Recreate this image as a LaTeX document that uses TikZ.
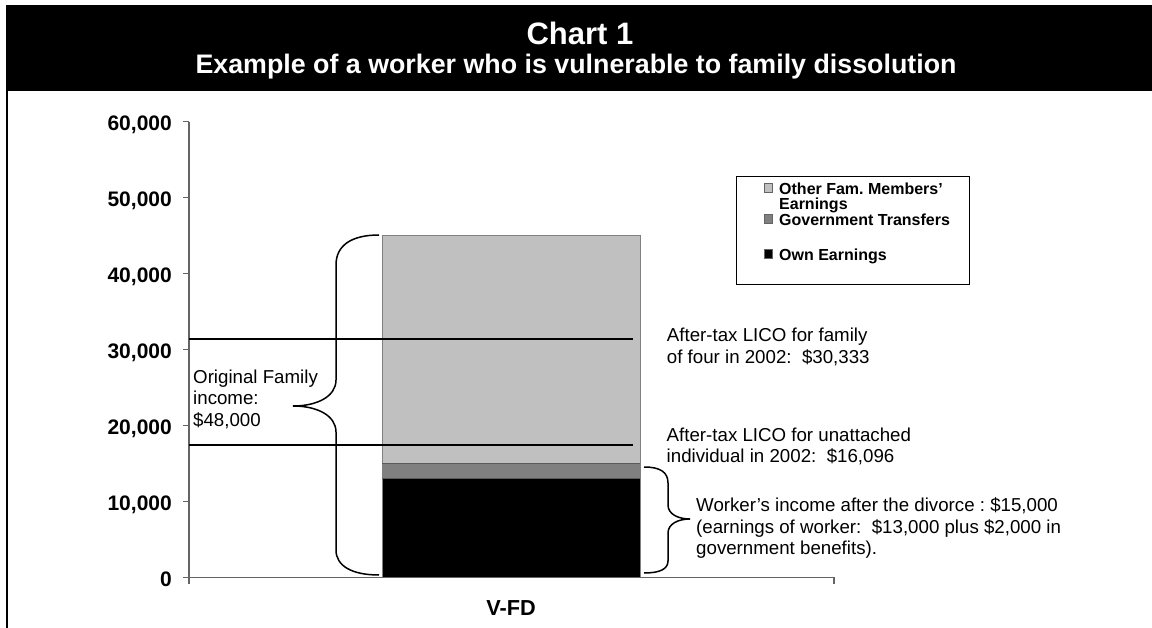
\documentclass[tikz,border=0pt]{standalone}
\usepackage{fontspec}
\setmainfont{Liberation Sans}
\frenchspacing
\definecolor{lightbar}{RGB}{192,192,192}
\definecolor{midbar}{RGB}{128,128,128}
\definecolor{axisgray}{RGB}{100,100,100}
\tikzset{
  ylab/.style={anchor=base east, inner sep=0pt, font=\bfseries\fontsize{21}{24}\selectfont},
  note/.style={anchor=base west, inner sep=0pt, font=\fontsize{18.7}{21.5}\selectfont},
  legtext/.style={anchor=base west, inner sep=0pt, font=\bfseries\fontsize{16}{16}\selectfont},
  legsq/.style={draw=axisgray, line width=0.8pt, minimum size=8.5pt, inner sep=0pt},
  brace/.style={draw=black, line width=1.5pt},
  axisline/.style={draw=axisgray, line width=1.2pt},
  lico/.style={draw=black, line width=1.3pt},
}
\begin{document}
\begin{tikzpicture}[x=1pt,y=-1pt]
\useasboundingbox (0,0) rectangle (1152,628);
% title bar and frame
\fill[black] (6,5) rectangle (1152,91);
\draw[line width=2pt] (6.8,91) -- (6.8,628);
\node[anchor=base, inner sep=0pt, text=white, font=\bfseries\fontsize{31}{34}\selectfont] (title) at (580,44.3) {Chart 1};
\node[anchor=base, inner sep=0pt, text=white, font=\bfseries\fontsize{26.8}{30}\selectfont] (subtitle) at (576,74) {Example of a worker who is vulnerable to family dissolution};
% bar segments
\fill[black] (382,577.7) rectangle (640,478.9);
\fill[midbar] (382,478.9) rectangle (640,463.7);
\fill[lightbar] (382,463.7) rectangle (640,235.7);
\draw[midbar, line width=1pt] (382,577.7) rectangle (640,235.7);
\draw[midbar!70!black, line width=1pt] (382,478.9) -- (640,478.9);
\draw[midbar!70!black, line width=1pt] (382,463.7) -- (640,463.7);
% axes
\coordinate (ytop) at (189,121.7);
\coordinate (ybot) at (189,584);
\coordinate (xl) at (189,577.7);
\coordinate (xr) at (834,577.7);
\coordinate (xrt) at (834,584);
\draw[axisline] (ytop) -- (ybot);
\draw[axisline] (xl) -- (xr) -- (xrt);
\foreach \v/\lab [count=\i] in {0/0,1/10{,}000,2/20{,}000,3/30{,}000,4/40{,}000,5/50{,}000,6/60{,}000}{
  \draw[axisline] (183,577.7-76*\v) -- (189,577.7-76*\v);
  \node[ylab] (ylab\i) at (172,577.7-76*\v+8.5) {\lab};
}
\node[anchor=base, inner sep=0pt, font=\bfseries\fontsize{21.7}{24}\selectfont] (xlab) at (511,615) {V-FD};
% LICO lines
\coordinate (l1a) at (189,339);
\coordinate (l1b) at (633,339);
\coordinate (l2a) at (189,445);
\coordinate (l2b) at (633,445);
\draw[lico] (l1a) -- (l1b);
\draw[lico] (l2a) -- (l2b);
% left brace
\coordinate (lbt) at (379,235);
\coordinate (lbb) at (379,575);
\coordinate (lbtip) at (293,406);
\draw[brace] (lbt) .. controls (352,235) and (336,245) .. (336,265) -- (336,380)
  .. controls (336,396) and (318,406) .. (lbtip)
  .. controls (318,406) and (336,416) .. (336,432) -- (336,550)
  .. controls (336,566) and (352,575) .. (lbb);
% right brace
\coordinate (rbt) at (644,467);
\coordinate (rbb) at (644,573);
\coordinate (rbtip) at (690,519);
\draw[brace] (rbt) .. controls (660,467) and (668,472) .. (668,483) -- (668,505)
  .. controls (668,514) and (678,519) .. (rbtip)
  .. controls (678,519) and (668,524) .. (668,533) -- (668,561)
  .. controls (668,569) and (660,573) .. (rbb);
% annotations
\node[note] (of1) at (193,383.5) {Original Family};
\node[note] (of2) at (193,405) {income:};
\node[note] (of3) at (193,426.5) {\$48,000};
\node[note] (lf1) at (666.7,341.7) {After-tax LICO for family};
\node[note] (lf2) at (666.7,363.3) {of four in 2002:\ \ \$30,333};
\node[note] (lu1) at (666.5,441.7) {After-tax LICO for unattached};
\node[note] (lu2) at (666.5,462.7) {individual in 2002:\ \ \$16,096};
\node[note] (w1) at (696,511.7) {Worker's income after the divorce : \$15,000};
\node[note] (w2) at (696,533.3) {(earnings of worker:\ \ \$13,000 plus \$2,000 in};
\node[note] (w3) at (696,554.7) {government benefits).};
% legend
\node[draw=black, line width=1pt, minimum width=233pt, minimum height=108pt, anchor=north west, inner sep=0pt] (legend) at (736,176) {};
\node[legsq, fill=lightbar] (sq1) at (768.5,188) {};
\node[legsq, fill=midbar] (sq2) at (768.5,219) {};
\node[legsq, fill=black] (sq3) at (768.5,253.7) {};
\node[legtext] (lg1) at (779,195) {Other Fam. Members\char"0027};
\node[legtext] (lg1b) at (779,209.5) {Earnings};
\node[legtext] (lg2) at (779,226) {Government Transfers};
\node[legtext] (lg3) at (779,260.7) {Own Earnings};
\end{tikzpicture}
\end{document}
